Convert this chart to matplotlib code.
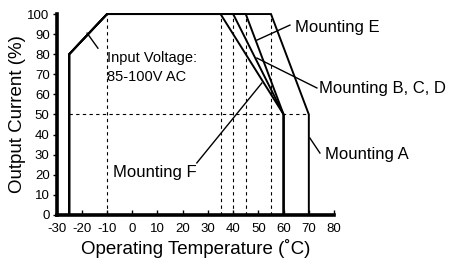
import matplotlib
matplotlib.use('Agg')
import matplotlib.pyplot as plt

plt.rcParams['font.family'] = ['Liberation Sans', 'DejaVu Sans']
plt.rcParams['axes.unicode_minus'] = False

# derating curves: temperature where full load ends, temperature at 50% load
mountings = ["Mounting F", "Mounting B, C, D", "Mounting E", "Mounting A"]
knee_temp = [35, 40, 45, 55]
half_temp = [60, 60, 60, 70]
# common low-temperature part
low_temp = [-25, -25, -10]
low_load = [0, 80, 100]
guide_temps = [-10, 35, 40, 45, 55]

x_ticks = list(range(-30, 81, 10))
y_ticks = list(range(0, 101, 10))

fig = plt.figure(figsize=(4.49, 2.65), dpi=100)
ax = fig.add_axes([0.126, 0.189, 0.618, 0.758])

# dashed guides
for t in guide_temps:
    ax.plot([t, t], [0, 100], color='black', lw=0.8, ls=(0, (3, 3)))
ax.plot([-25, 70], [50, 50], color='black', lw=0.8, ls=(0, (3, 3)))

for name, k, h in zip(mountings, knee_temp, half_temp):
    xs = low_temp + [k, h, h]
    ys = low_load + [100, 50, 0]
    ax.plot(xs, ys, color='black', lw=1.4, solid_joinstyle='miter', clip_on=False)

ax.set_xlim(-30, 80)
ax.set_ylim(0, 100)
ax.set_xticks(x_ticks)
ax.set_yticks(y_ticks)
ax.tick_params(axis='x', direction='in', length=3.5, width=1, labelsize=9.5, pad=6)
ax.tick_params(axis='y', direction='out', length=3, width=1, labelsize=9.5, pad=2)
for s in ['top', 'right']:
    ax.spines[s].set_visible(False)
for s in ['left', 'bottom']:
    ax.spines[s].set_linewidth(2.6)
ax.set_xlabel("Operating Temperature (˚C)", fontsize=13.5, labelpad=3)
ax.set_ylabel("Output Current (%)", fontsize=13.5, labelpad=1)

# annotations: text plus thin pointer line
ln = dict(color='black', lw=1, clip_on=False)
ax.text(-10, 78, "Input Voltage:", fontsize=10.5, va='center', ha='left')
ax.text(-10, 68.7, "85-100V AC", fontsize=10.5, va='center', ha='left')
ax.plot([-17.9, -13.6], [90.5, 83], **ln)

ax.text(64.5, 93.5, "Mounting E", fontsize=12, va='center', ha='left')
ax.plot([62.5, 49.4], [94.5, 87], **ln)

ax.text(74, 62.7, "Mounting B, C, D", fontsize=12, va='center', ha='left')
ax.plot([73.2, 49.4], [63.2, 78.1], **ln)

ax.text(76.3, 29.9, "Mounting A", fontsize=12, va='center', ha='left')
ax.plot([74.4, 70.4], [30.8, 38.3], **ln)

ax.text(-7.6, 20.9, "Mounting F", fontsize=12, va='center', ha='left')
ax.plot([25.6, 51.4], [25.9, 65.7], **ln)

fig.savefig("out.png", dpi=100)
